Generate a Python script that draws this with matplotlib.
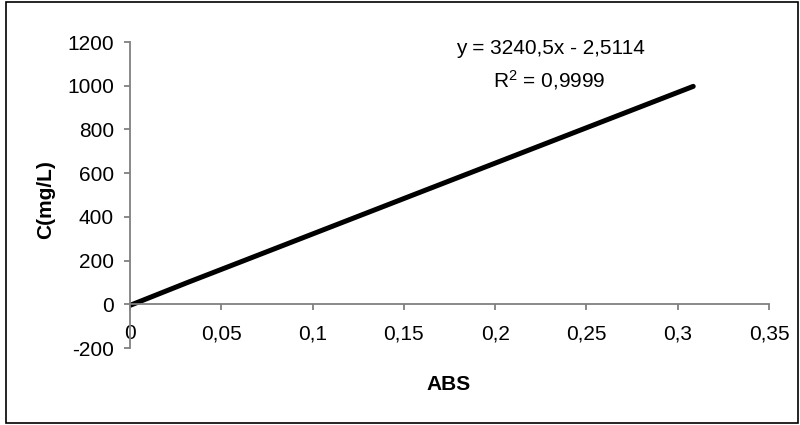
import matplotlib
matplotlib.use("Agg")
import matplotlib.pyplot as plt
from matplotlib.patches import Rectangle

plt.rcParams['font.family'] = ['Liberation Sans', 'DejaVu Sans']

abs_vals = [0.0, 0.0316, 0.0625, 0.1550, 0.3085]
conc_vals = [-5, 100, 200, 500, 997]
x_ticks = [0, 0.05, 0.1, 0.15, 0.2, 0.25, 0.3, 0.35]
x_labels = ['0', '0,05', '0,1', '0,15', '0,2', '0,25', '0,3', '0,35']
y_ticks = [-200, 0, 200, 400, 600, 800, 1000, 1200]
y_labels = ['-200', '0', '200', '400', '600', '800', '1000', '1200']
eq_text = 'y = 3240,5x - 2,5114'
r2_text = '$\\mathregular{R^2}$ = 0,9999'

FS = 15
fig = plt.figure(figsize=(8, 4.25), dpi=100)
fig.patches.append(Rectangle((6/800, 2/425), 792/800, 421/425, transform=fig.transFigure,
                             fill=False, edgecolor='black', linewidth=1.2))
ax = fig.add_axes([130/800, 1 - 348/425, 639/800, 306/425])
ax.plot(abs_vals, conc_vals, color='black', linewidth=3.6, solid_capstyle='round')
ax.set_xlim(0, 0.35)
ax.set_ylim(-200, 1200)
ax.spines['top'].set_visible(False)
ax.spines['right'].set_visible(False)
ax.spines['left'].set_position(('data', 0))
ax.spines['bottom'].set_position(('data', 0))
for s in ('left', 'bottom'):
    ax.spines[s].set_color('#808080')
    ax.spines[s].set_linewidth(1.3)
ax.set_xticks(x_ticks)
ax.set_xticklabels(x_labels)
ax.set_yticks(y_ticks)
ax.set_yticklabels(y_labels)
ax.tick_params(axis='x', direction='out', length=4.5, width=1.3, color='#808080', pad=10, labelsize=FS)
ax.tick_params(axis='y', direction='out', length=4.5, width=1.3, color='#808080', pad=7, labelsize=FS)
ax.set_zorder(1)
fig.text(46/800, 1 - 200/425, 'C(mg/L)', rotation=90, ha='center', va='center',
         fontsize=FS, fontweight='bold')
fig.text(449/800, 1 - 384/425, 'ABS', ha='center', va='center', fontsize=FS, fontweight='bold')
fig.text(550/800, 1 - 49/425, eq_text, ha='center', va='center', fontsize=FS)
fig.text(549/800, 1 - 80/425, r2_text, ha='center', va='center', fontsize=FS)
fig.savefig('out.png', dpi=100)
